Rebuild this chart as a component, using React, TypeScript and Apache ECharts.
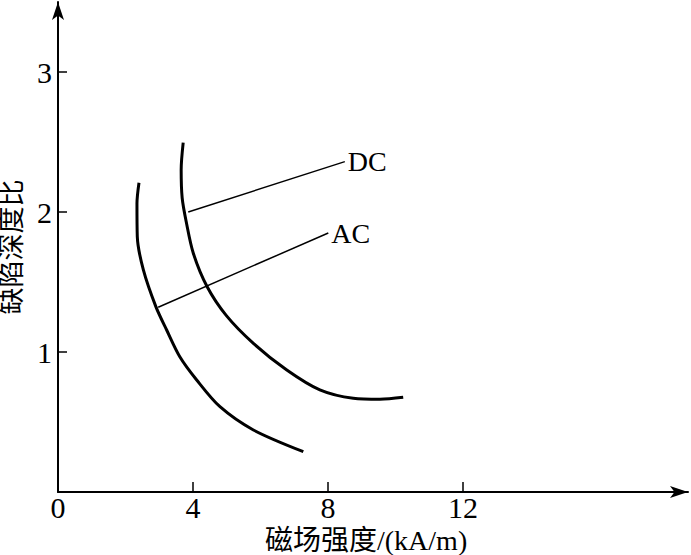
import React, { useEffect, useRef } from "react";
import * as echarts from "echarts";

const acX = [2.4, 2.34, 2.35, 2.53, 2.9, 3.22, 3.61, 4.11, 4.8, 5.79, 7.27];
const acY = [2.209, 2.06, 1.824, 1.586, 1.324, 1.157, 0.966, 0.8, 0.609, 0.443, 0.288];
const dcX = [3.71, 3.65, 3.68, 3.8, 4.01, 4.42, 4.99, 5.79, 6.78, 7.76, 8.75, 9.54, 10.23];
const dcY = [2.495, 2.3, 2.1, 1.93, 1.705, 1.466, 1.26, 1.062, 0.871, 0.729, 0.669, 0.662, 0.676];
const dcLeaderX = [3.86, 8.5];
const dcLeaderY = [2.0, 2.36];
const acLeaderX = [2.97, 8.01];
const acLeaderY = [1.32, 1.85];
const xTicks = [4, 8, 12];
const xLabels = [0, 4, 8, 12];
const yTicks = [1, 2, 3];
const xName = "磁场强度/(kA/m)";
const yName = "缺陷深度比";

const FONT = "'Liberation Serif', 'Times New Roman', 'Noto Sans CJK SC', serif";

function zip(xs: number[], ys: number[]) {
  return xs.map((x, i) => [x, ys[i]]);
}

export default function App() {
  const ref = useRef<HTMLDivElement>(null);
  useEffect(() => {
    const chart = echarts.init(ref.current!, null, { renderer: "svg" });
    const lbl = { color: "#000", fontSize: 30, fontFamily: FONT };
    chart.setOption({
      animation: false,
      backgroundColor: "#fff",
      grid: {
        left: 58,
        right: 3,
        top: 2,
        bottom: 63,
        containLabel: false,
        outerBoundsMode: "none",
      },
      xAxis: {
        type: "value",
        min: 0,
        max: 18.67,
        interval: 4,
        splitLine: { show: false },
        axisLine: {
          show: true,
          lineStyle: { color: "#000", width: 2 },
          symbol: ["none", "arrow"],
          symbolSize: [9, 18],
        },
        axisTick: {
          show: true,
          inside: true,
          length: 10,
          customValues: xTicks,
          lineStyle: { color: "#000", width: 1.5 },
        },
        axisLabel: {
          ...lbl,
          margin: 0,
          customValues: xLabels,
          formatter: (v: number) => String(v),
        },
      },
      yAxis: {
        type: "value",
        min: 0,
        max: 3.5,
        interval: 1,
        splitLine: { show: false },
        axisLine: {
          show: true,
          lineStyle: { color: "#000", width: 2 },
          symbol: ["none", "arrow"],
          symbolSize: [9, 18],
        },
        axisTick: {
          show: true,
          inside: true,
          length: 9,
          customValues: yTicks,
          lineStyle: { color: "#000", width: 1.5 },
        },
        axisLabel: {
          ...lbl,
          margin: 6,
          customValues: yTicks,
          formatter: (v: number) => String(v),
        },
        name: yName,
        nameLocation: "middle",
        nameGap: 27,
        nameTextStyle: { ...lbl, fontSize: 27, lineHeight: 28 },
      },
      graphic: [
        {
          type: "text",
          left: 265,
          top: 526,
          style: { text: xName, fill: "#000", fontSize: 28, fontFamily: FONT },
        },
      ],
      series: [
        {
          type: "line",
          data: zip(acX, acY),
          smooth: 0.3,
          showSymbol: false,
          symbol: "none",
          lineStyle: { color: "#000", width: 3 },
        },
        {
          type: "line",
          data: zip(dcX, dcY),
          smooth: 0.3,
          showSymbol: false,
          symbol: "none",
          lineStyle: { color: "#000", width: 3 },
        },
        {
          type: "line",
          data: zip(dcLeaderX, dcLeaderY),
          symbol: "none",
          lineStyle: { color: "#000", width: 1.5 },
          endLabel: { show: true, formatter: "DC", distance: 3, ...lbl, fontSize: 28 },
        },
        {
          type: "line",
          data: zip(acLeaderX, acLeaderY),
          symbol: "none",
          lineStyle: { color: "#000", width: 1.5 },
          endLabel: { show: true, formatter: "AC", distance: 3, ...lbl, fontSize: 28 },
        },
      ],
    });
    return () => chart.dispose();
  }, []);
  return (
    <div
      ref={ref}
      style={{ width: 691, height: 555, position: "absolute", left: 0, top: 0 }}
    />
  );
}
